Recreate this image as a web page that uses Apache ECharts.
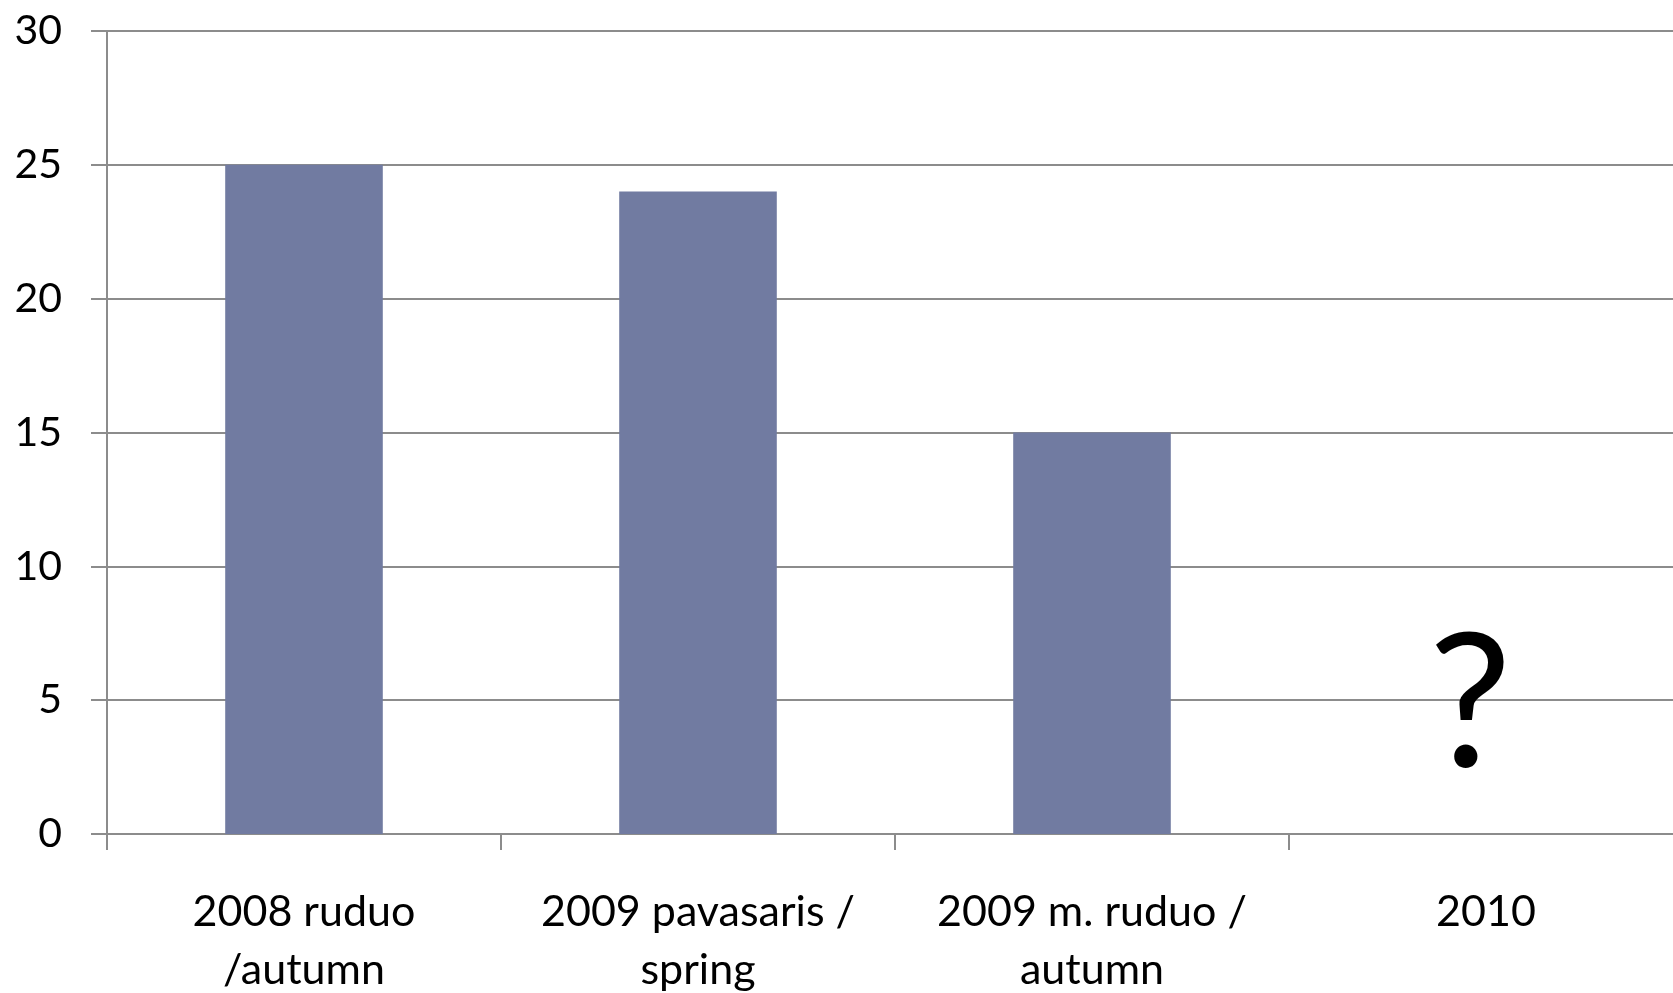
<!DOCTYPE html>
<html>
<head>
<meta charset="utf-8">
<style>
  html, body { margin: 0; padding: 0; background: #ffffff; }
  #chart { width: 1673px; height: 993px; }
</style>
<script src="https://cdn.jsdelivr.net/npm/echarts@6/dist/echarts.min.js"></script>
</head>
<body>
<div id="chart"></div>
<script>
// Survey periods along the x axis
const categories = [
  '2008 ruduo\n/autumn',
  '2009 pavasaris /\nspring',
  '2009 m. ruduo /\nautumn',
  '2010'
];
// Measured values per period (2010 not yet known)
const values = [25, 24, 15, null];
// Value-axis range
const yMin = 0;
const yMax = 30;
const yStep = 5;
// Marker for the unknown period: category and height it sits at
const unknownCategory = '2010';
const unknownLevel = 4.74;
const unknownText = '?';

const lineColor = '#8c8c8c';
const fontFamily = 'Lato, "Open Sans", sans-serif';

const chart = echarts.init(document.getElementById('chart'), null, { renderer: 'canvas' });

chart.setOption({
  animation: false,
  backgroundColor: '#ffffff',
  grid: {
    left: 107,
    top: 31,
    right: -10,
    bottom: 159,
    outerBoundsMode: 'none',
    containLabel: false
  },
  xAxis: {
    type: 'category',
    data: categories,
    boundaryGap: true,
    axisLine: { show: true, lineStyle: { color: lineColor, width: 2 } },
    axisTick: { show: true, length: 16, lineStyle: { color: lineColor, width: 2 } },
    axisLabel: {
      interval: 0,
      margin: 49,
      color: '#000000',
      fontFamily: fontFamily,
      fontSize: 43,
      lineHeight: 58,
      align: 'center'
    },
    splitLine: { show: false }
  },
  yAxis: {
    type: 'value',
    min: yMin,
    max: yMax,
    interval: yStep,
    axisLine: { show: true, lineStyle: { color: lineColor, width: 2 } },
    axisTick: { show: true, length: 16, lineStyle: { color: lineColor, width: 2 } },
    axisLabel: {
      margin: 45,
      color: '#000000',
      fontFamily: fontFamily,
      fontSize: 41
    },
    splitLine: { show: true, lineStyle: { color: lineColor, width: 2 } }
  },
  series: [{
    type: 'bar',
    data: values,
    barWidth: '40%',
    itemStyle: { color: '#717ba1' },
    markPoint: {
      symbol: 'rect',
      symbolSize: 0,
      silent: true,
      data: [{
        coord: [unknownCategory, unknownLevel],
        label: {
          show: true,
          position: 'inside',
          formatter: unknownText,
          offset: [-16, 0],
          color: '#000000',
          fontFamily: fontFamily,
          fontSize: 186
        }
      }]
    }
  }]
});
</script>
</body>
</html>
